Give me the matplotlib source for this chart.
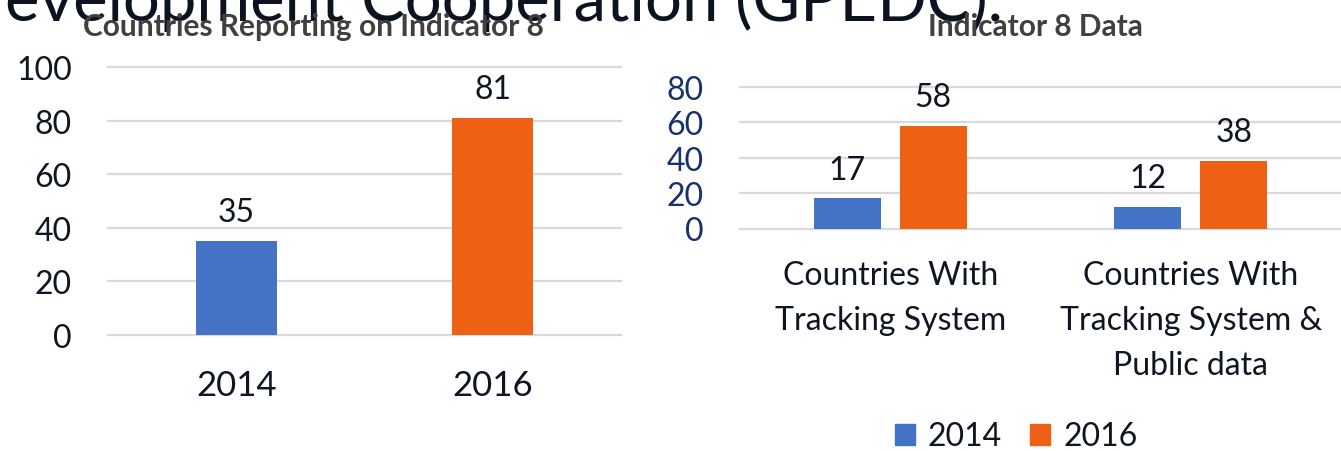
import matplotlib
matplotlib.use("Agg")
import matplotlib.pyplot as plt
from matplotlib.patches import Patch

# ========= DATA =========
years = ["2014", "2016"]
reporting = [35, 81]

categories = ["Countries With\nTracking System",
              "Countries With\nTracking System &\nPublic data"]
values_2014 = [17, 12]
values_2016 = [58, 38]

# ========= STYLE =========
W, H = 1341, 452
BLUE = "#4472C4"
ORANGE = "#EE6114"
GRID = "#D9D9D9"
TEXT = "#0E1621"
NAVY = "#17306E"

plt.rcParams["font.family"] = ["Lato", "DejaVu Sans"]


def px_box(x0, x1, ytop, ybot):
    # caja de ejes en pixeles -> fracciones de figura
    return [x0 / W, 1 - ybot / H, (x1 - x0) / W, (ybot - ytop) / H]


def style_axes(ax, ymax, tick_color):
    ax.set_ylim(0, ymax)
    ax.set_xlim(-0.5, 1.5)
    ax.set_yticks(range(0, ymax + 1, 20))
    for s in ax.spines.values():
        s.set_visible(False)
    ax.set_axisbelow(True)
    ax.grid(axis="y", color=GRID, linewidth=1.6)
    for ln in ax.get_ygridlines():
        ln.set_clip_on(False)
    ax.tick_params(axis="y", length=0, pad=26, labelsize=23, labelcolor=tick_color)
    ax.tick_params(axis="x", length=0)


fig = plt.figure(figsize=(W / 100, H / 100), dpi=100)

# titulo de la diapositiva (cortado arriba)
fig.text(1003 / W, 1 - 21 / H, "evelopment Cooperation (GPEDC).",
         ha="right", va="baseline", fontsize=47, color="#0B1320", zorder=1)

# ========= LEFT CHART =========
axL = fig.add_axes(px_box(108, 621, 68, 336))
style_axes(axL, 100, TEXT)
barsL = axL.bar(range(len(years)), reporting, width=0.316, color=[BLUE, ORANGE])
axL.bar_label(barsL, padding=10, fontsize=23, color=TEXT)
axL.set_xticks(range(len(years)))
axL.set_xticklabels(years)
axL.tick_params(axis="x", pad=24.5, labelsize=25, labelcolor=TEXT)

fig.text(313 / W, 1 - 27 / H, "Countries Reporting on Indicator 8",
         ha="center", va="center", fontsize=21.5, fontweight="bold",
         color="#404040", zorder=5)

# ========= RIGHT CHART =========
axR = fig.add_axes(px_box(740, 1341, 88, 229.5))
style_axes(axR, 80, NAVY)
x = range(len(categories))
b14 = axR.bar([i - 0.143 for i in x], values_2014, width=0.223, color=BLUE)
b16 = axR.bar([i + 0.143 for i in x], values_2016, width=0.223, color=ORANGE)
axR.bar_label(b14, padding=10, fontsize=23, color=TEXT)
axR.bar_label(b16, padding=10, fontsize=23, color=TEXT)
axR.set_xticks(list(x))
axR.set_xticklabels(categories, linespacing=1.62, va="top")
axR.tick_params(axis="x", pad=23, labelsize=23, labelcolor=TEXT)

fig.text(1035 / W, 1 - 27 / H, "Indicator 8 Data",
         ha="center", va="center", fontsize=21.5, fontweight="bold",
         color="#404040", zorder=5)

handles = [Patch(color=BLUE, label="2014"), Patch(color=ORANGE, label="2016")]
fig.legend(handles=handles, loc="center", bbox_to_anchor=(1016 / W, 1 - 437.5 / H),
           ncol=2, frameon=False, fontsize=23, handlelength=0.63,
           handleheight=0.63, handletextpad=0.4, columnspacing=0.9,
           borderpad=0, labelcolor=TEXT)

fig.savefig("out.png", dpi=100)
